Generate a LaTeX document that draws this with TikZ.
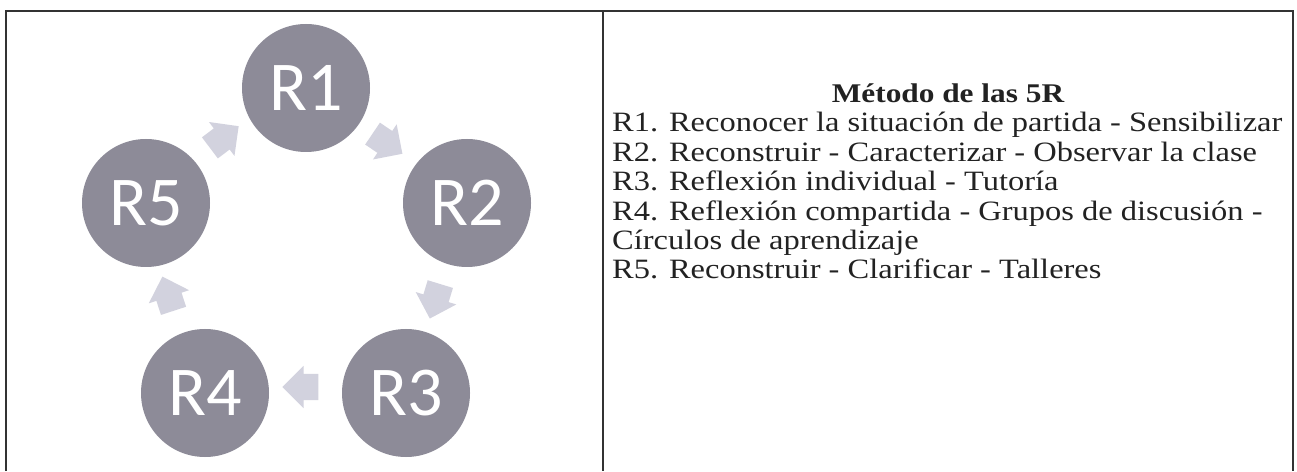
\documentclass[tikz,border=0pt]{standalone}
\usepackage{fontspec}
\setmainfont{Liberation Serif}[FakeStretch=1.16]
\newfontfamily\carlito{Carlito}
\usetikzlibrary{shapes.arrows}
\definecolor{rgray}{HTML}{8D8B98}
\definecolor{agray}{HTML}{D2D2DE}
\definecolor{framegray}{HTML}{333333}
\definecolor{txtc}{HTML}{222222}
\begin{document}
\begin{tikzpicture}[x=1pt,y=1pt,
  rcirc/.style={circle, fill=rgray, minimum size=128pt, inner sep=0pt, text=white,
    font=\carlito\fontsize{70}{70}\selectfont},
  cyc/.style={single arrow, fill=agray, draw=none, minimum height=36pt,
    inner xsep=0pt, inner ysep=13pt, single arrow head extend=8pt},
  frame/.style={draw=framegray, line width=2.2pt},
  ln/.style={anchor=base west, inner sep=0pt, text=txtc,
    font=\fontsize{28}{29}\selectfont},
  ttl/.style={anchor=base, inner sep=0pt, text=txtc,
    font=\bfseries\fontsize{27}{29}\selectfont}]
\useasboundingbox (0,0) rectangle (1297,471);
\fill[white] (0,0) rectangle (1297,471);
\draw[frame] (6,0) -- (6,460) -- (1293,460) -- (1293,0);
\draw[frame] (603,460) -- (603,0);
% circles
\node[rcirc] (r1) at (306,383) {R1};
\node[rcirc] (r2) at (467,268) {R2};
\node[rcirc] (r3) at (406,78) {R3};
\node[rcirc] (r4) at (205,78) {R4};
\node[rcirc] (r5) at (146,268) {R5};
% cycle arrows
\node[cyc, rotate=37] (a51) at (219,330) {};
\node[cyc, rotate=-34] (a12) at (382,331) {};
\node[cyc, rotate=-107] (a23) at (437,176) {};
\node[cyc, rotate=180] (a34) at (307,84) {};
\node[cyc, rotate=108] (a45) at (170,171) {};
% text
\node[ttl] (title) at (948,368) {Método de las 5R};
\node[ln] (l1) at (612,339) {R1. Reconocer la situación de partida - Sensibilizar};
\node[ln] (l2) at (612,309.6) {R2. Reconstruir - Caracterizar - Observar la clase};
\node[ln] (l3) at (612,280.2) {R3. Reflexión individual - Tutoría};
\node[ln] (l4) at (612,250.8) {R4. Reflexión compartida - Grupos de discusión -};
\node[ln] (l5) at (612,221.4) {Círculos de aprendizaje};
\node[ln] (l6) at (612,192) {R5. Reconstruir - Clarificar - Talleres};
\end{tikzpicture}
\end{document}
